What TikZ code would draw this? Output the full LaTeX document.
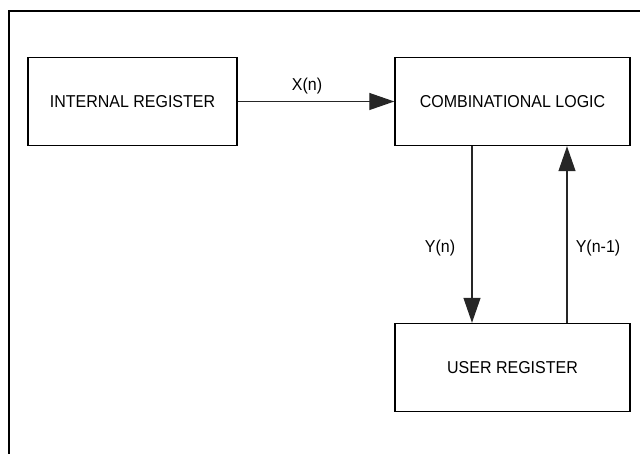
\documentclass[tikz,border=0pt]{standalone}
\usepackage{fontspec}
\setmainfont{Liberation Sans}[FakeStretch=0.93]
\usetikzlibrary{positioning,arrows.meta,calc}

\begin{document}
\begin{tikzpicture}[
  x=1pt, y=-1pt,
  font=\fontsize{17.2}{20}\selectfont,
  >={Triangle[length=25pt,width=17pt]},
  regbox/.style={draw=black, line width=1.4pt, inner sep=0pt, minimum height=88pt},
  sigmap/.style={->, draw=black!85, line width=1.2pt},
  siglabel/.style={inner sep=1pt}
]
  \useasboundingbox (0,0) rectangle (640,454);
  % outer frame (only left and top edges show)
  \draw[line width=2pt] (9,454) -- (9,11) -- (640,11);

  \node[regbox, minimum width=209pt] (intreg) at (132.5,101.5) {INTERNAL REGISTER};
  \node[regbox, minimum width=235pt] (comblog) at (512.5,101.5) {COMBINATIONAL LOGIC};
  \node[regbox, minimum width=235pt] (usereg) at (512.5,367.5) {USER REGISTER};

  \draw[sigmap] (intreg.east) -- (comblog.west);
  \draw[sigmap] ([xshift=-40.5pt]comblog.south) -- ([xshift=-40.5pt]usereg.north);
  \draw[sigmap] ([xshift=54.5pt]usereg.north) -- ([xshift=54.5pt]comblog.south);

  \node[siglabel] (xn) at (307,86) {X(n)};
  \node[siglabel] (yn) at (440,248) {Y(n)};
  \node[siglabel] (ynm) at (598,248) {Y(n-1)};
\end{tikzpicture}
\end{document}
